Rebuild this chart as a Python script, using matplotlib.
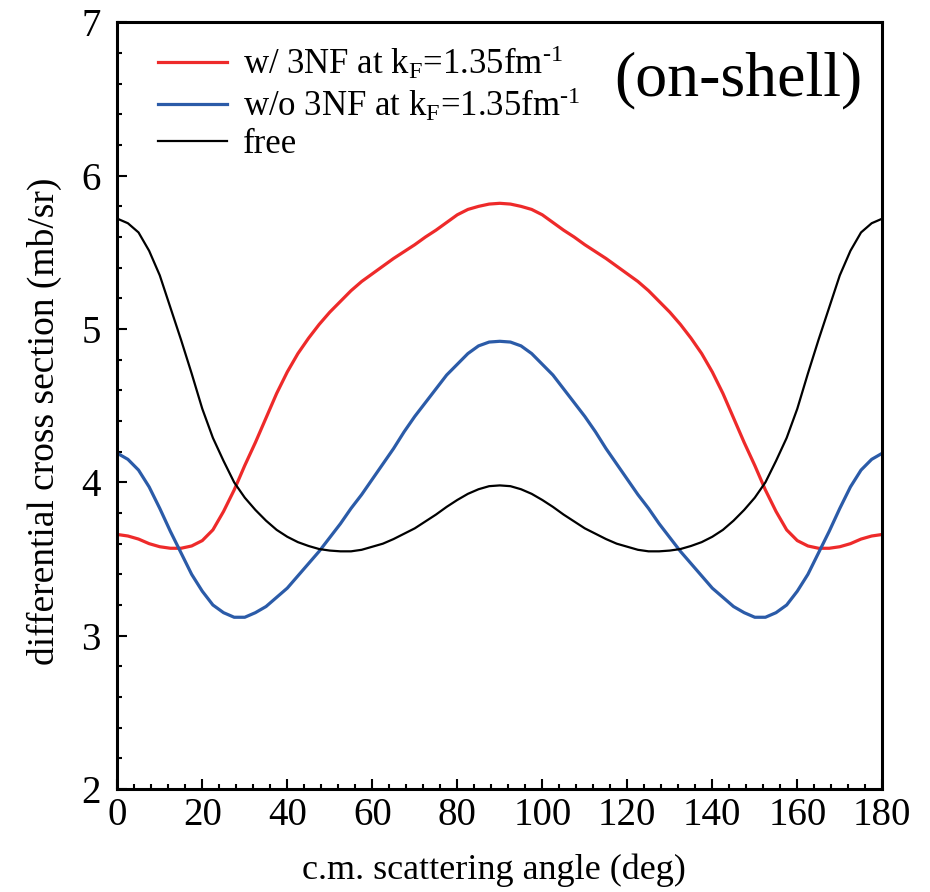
import matplotlib
matplotlib.use("Agg")
import matplotlib.pyplot as plt
from matplotlib.ticker import MultipleLocator

plt.rcParams['font.family'] = ['Liberation Serif', 'DejaVu Serif']
plt.rcParams['mathtext.fontset'] = 'custom'
plt.rcParams['mathtext.rm'] = 'Liberation Serif'
plt.rcParams['mathtext.it'] = 'Liberation Serif:italic'

# ---------------------------------------------------------------- data
# angles 0..90, curves are symmetric about 90 deg
half_angle = [0, 2.5, 5, 7.5, 10, 12.5, 15, 17.5, 20, 22.5, 25, 27.5, 30, 32.5, 35, 37.5,
              40, 42.5, 45, 47.5, 50, 52.5, 55, 57.5, 60, 62.5, 65, 67.5, 70, 72.5, 75,
              77.5, 80, 82.5, 85, 87.5, 90]
half_3nf = [3.66, 3.65, 3.63, 3.60, 3.58, 3.57, 3.57, 3.585, 3.62, 3.69, 3.81, 3.95,
            4.11, 4.26, 4.42, 4.58, 4.72, 4.84, 4.94, 5.03, 5.11, 5.18, 5.25, 5.31,
            5.36, 5.41, 5.46, 5.505, 5.55, 5.60, 5.645, 5.695, 5.745, 5.78, 5.80,
            5.815, 5.82]
half_no3nf = [4.19, 4.15, 4.08, 3.97, 3.83, 3.68, 3.54, 3.40, 3.29, 3.20, 3.15, 3.12,
              3.12, 3.15, 3.19, 3.25, 3.31, 3.39, 3.47, 3.55, 3.64, 3.73, 3.83, 3.92,
              4.02, 4.12, 4.22, 4.33, 4.43, 4.52, 4.61, 4.70, 4.77, 4.84, 4.89, 4.915,
              4.92]
half_free = [5.72, 5.69, 5.63, 5.51, 5.35, 5.14, 4.93, 4.71, 4.48, 4.29, 4.14, 4.00,
             3.90, 3.82, 3.75, 3.69, 3.645, 3.61, 3.585, 3.565, 3.555, 3.55, 3.55, 3.56,
             3.58, 3.60, 3.63, 3.665, 3.70, 3.745, 3.79, 3.84, 3.885, 3.925, 3.955,
             3.975, 3.98]

angle = half_angle + [180 - a for a in half_angle[-2::-1]]
y_3nf = half_3nf + half_3nf[-2::-1]
y_no3nf = half_no3nf + half_no3nf[-2::-1]
y_free = half_free + half_free[-2::-1]

labels = [r'w/ 3NF at k$_\mathrm{F}$=1.35fm$^{\text{-1}}$',
          r'w/o 3NF at k$_\mathrm{F}$=1.35fm$^{\text{-1}}$',
          'free']

# ---------------------------------------------------------------- plot
fig = plt.figure(figsize=(9.3, 8.92), dpi=100)
ax = fig.add_axes([0.1261, 0.1155, 0.8226, 0.8594])

ax.plot(angle, y_3nf, color='#ee2a2a', lw=2.3, label=labels[0])
ax.plot(angle, y_no3nf, color='#2b5ba8', lw=2.3, label=labels[1])
ax.plot(angle, y_free, color='black', lw=1.6, label=labels[2])

ax.set_xlim(0, 180)
ax.set_ylim(2, 7)
ax.xaxis.set_major_locator(MultipleLocator(20))
ax.xaxis.set_minor_locator(MultipleLocator(4))
ax.yaxis.set_major_locator(MultipleLocator(1))
ax.yaxis.set_minor_locator(MultipleLocator(0.2))
ax.tick_params(which='both', direction='in', top=False, right=False,
               labelsize=28, width=1.5)
ax.tick_params(which='major', length=7)
ax.tick_params(which='minor', length=3.5)
ax.tick_params(axis='x', pad=6)
ax.tick_params(axis='y', pad=12)
for s in ax.spines.values():
    s.set_linewidth(2.2)

ax.set_xlabel('c.m. scattering angle (deg)', fontsize=26, labelpad=14)
ax.set_ylabel('differential cross section (mb/sr)', fontsize=27, labelpad=14)
ax.xaxis.label.set_x(0.492)
ax.yaxis.label.set_y(0.48)

ax.legend(loc='upper left', bbox_to_anchor=(0.035, 0.99), frameon=False,
          fontsize=25, handlelength=2.0, handletextpad=0.45, labelspacing=0.12,
          borderaxespad=0)

ax.text(0.9735, 0.905, '(on-shell)', transform=ax.transAxes, fontsize=46,
        ha='right', va='baseline')

fig.savefig('out.png', dpi=100)
